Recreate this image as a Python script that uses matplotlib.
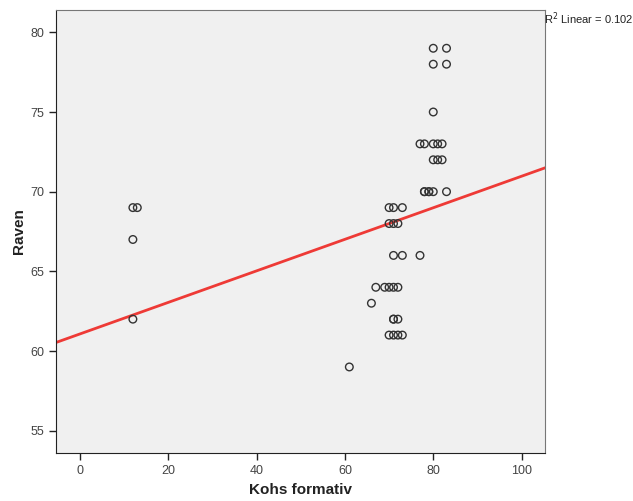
import numpy as np
import matplotlib

matplotlib.use("Agg")

import matplotlib.pyplot as plt

# Kohs formativ (x) and Raven (y) scores
kohs = [
    12, 13, 12, 12,
    61, 66,
    67, 69, 70, 71, 72,
    70, 71, 72, 73,
    71, 71, 72,
    70, 71, 73,
    70, 71, 72,
    71, 73, 77,
    78, 78, 79, 79, 80, 83,
    80, 81, 82,
    77, 78, 80, 81, 82,
    80,
    80, 83,
    80, 83,
]
raven = [
    69, 69, 67, 62,
    59, 63,
    64, 64, 64, 64, 64,
    61, 61, 61, 61,
    62, 62, 62,
    69, 69, 69,
    68, 68, 68,
    66, 66, 66,
    70, 70, 70, 70, 70, 70,
    72, 72, 72,
    73, 73, 73, 73, 73,
    75,
    78, 78,
    79, 79,
]

# linear fit line as shown in the chart
fit_intercept = 61.07
fit_slope = 0.099
r2_text = "R$^2$ Linear = 0.102"

x_ticks = [0, 20, 40, 60, 80, 100]
y_ticks = [55, 60, 65, 70, 75, 80]
x_range = (-5.4, 105.3)
y_range = (53.6, 81.4)

plt.rcParams["font.family"] = ["Liberation Sans", "DejaVu Sans"]

fig = plt.figure(figsize=(6.33, 5.01), dpi=100)
ax = fig.add_axes([0.0885, 0.0958, 0.7725, 0.8842])
ax.set_facecolor("#f0f0f0")

ax.scatter(kohs, raven, s=30, facecolors="none", edgecolors="#333333",
           linewidths=1.0, zorder=3)

xs = np.array(x_range)
ax.plot(xs, fit_intercept + fit_slope * xs, color="#ee3a36", lw=2.0, zorder=2)

ax.set_xlim(x_range)
ax.set_ylim(y_range)
ax.set_xticks(x_ticks)
ax.set_yticks(y_ticks)
ax.tick_params(direction="out", length=5, width=1, colors="#222222",
               labelcolor="#444444", labelsize=9)

for side in ["left", "bottom"]:
    ax.spines[side].set_color("#222222")
for side in ["top", "right"]:
    ax.spines[side].set_color("#777777")

ax.set_xlabel("Kohs formativ", fontsize=11, fontweight="bold", color="#222222",
              va="center")
ax.set_ylabel("Raven", fontsize=11, fontweight="bold", color="#222222",
              va="center")
ax.xaxis.set_label_coords(0.5, -0.083)
ax.yaxis.set_label_coords(-0.076, 0.5)

fig.text(0.859, 0.963, r2_text, fontsize=8, color="#222222", va="center",
         ha="left")

fig.savefig("out.png", dpi=100)
